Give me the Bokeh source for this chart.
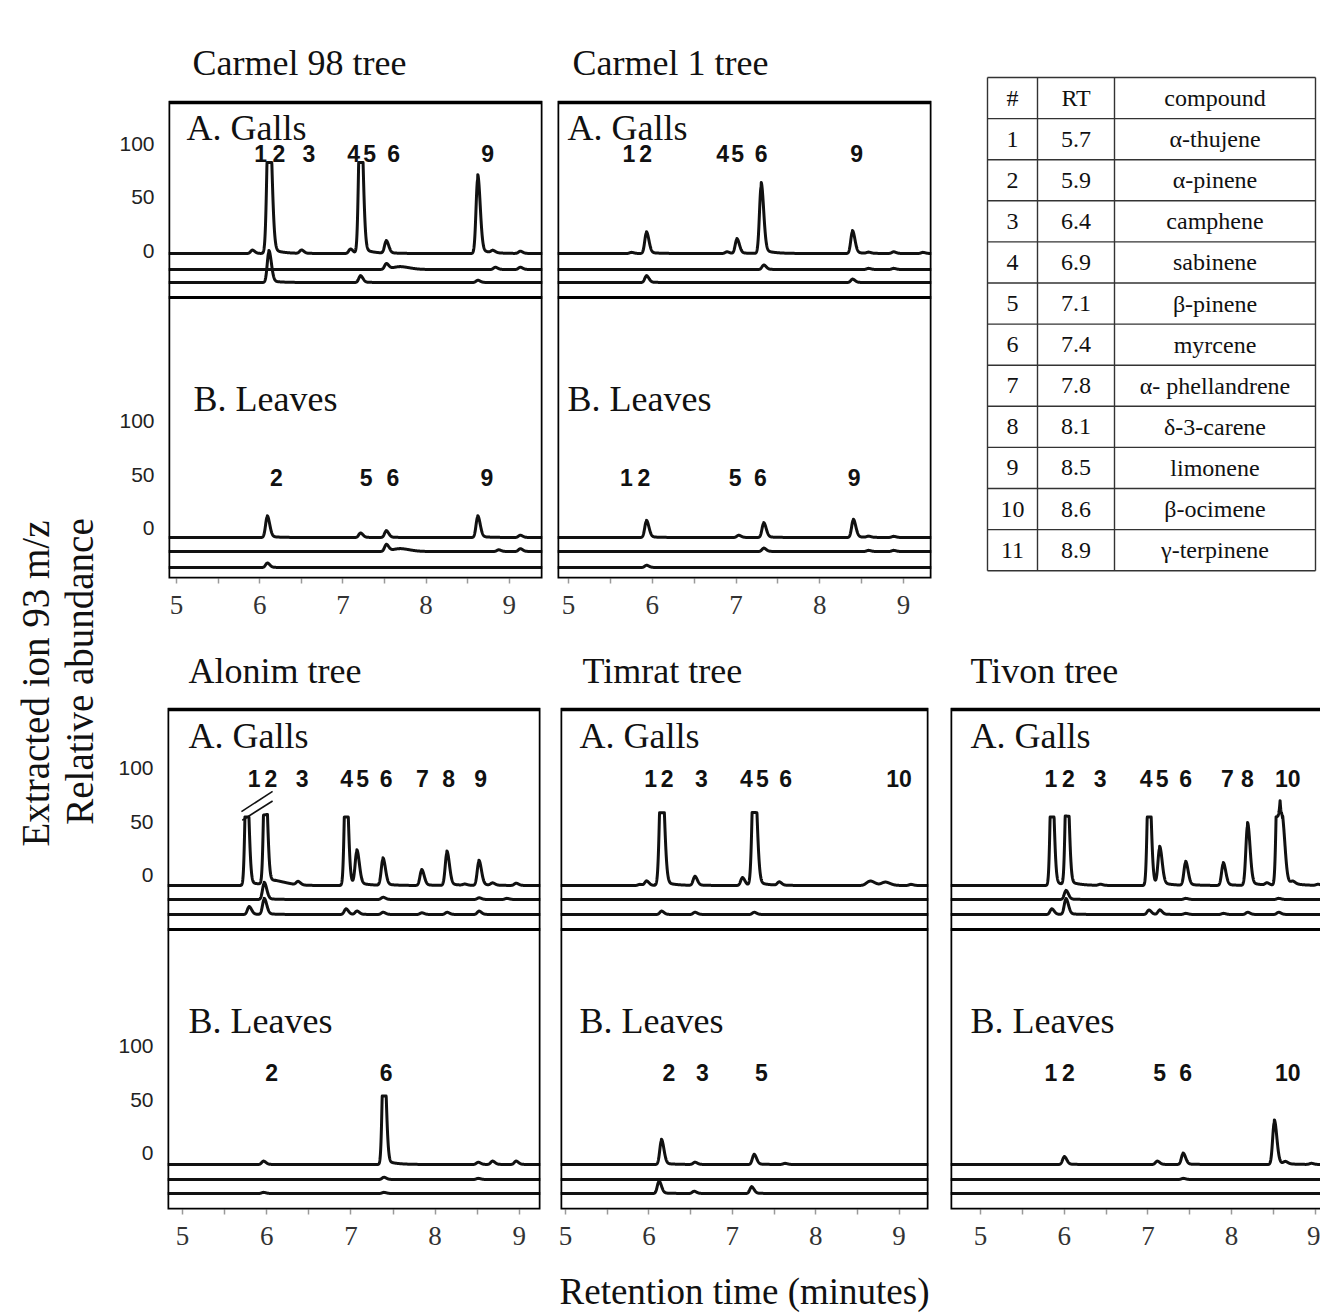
import numpy as np
from bokeh.plotting import figure
from bokeh.layouts import row, column
from bokeh.models import (Label, Span, FixedTicker, Range1d, ColumnDataSource, SingleIntervalTicker,
                          BoxAnnotation)
from bokeh.embed import file_html
from bokeh.resources import INLINE

# ---------------- data ----------------
# each trace: list of peaks (retention time [min], height [% relative abundance][, width [min][, clipped]])
CARMEL98_GALLS = [
    [(5.91, 3), (6.11, 85, 0.022, True), (6.50, 3), (7.09, 4), (7.21, 85, 0.02, True), (7.52, 11),
     (8.62, 69), (8.80, 2), (9.13, 2)],
    [(7.52, 5), (7.68, 2.5, 0.08), (8.83, 2), (9.13, 2)],
    [(6.11, 28), (7.21, 6), (8.62, 2)],
]
CARMEL98_LEAVES = [
    [(6.09, 19), (7.21, 4), (7.52, 6), (8.62, 19), (9.13, 2)],
    [(7.52, 6), (7.68, 2.5, 0.08), (8.87, 1.5), (9.13, 2.5)],
    [(6.09, 4)],
]
CARMEL1_GALLS = [
    [(5.75, 1), (5.93, 19), (6.89, 1.5), (7.01, 13), (7.30, 62), (8.39, 20), (8.58, 1), (8.88, 1.5), (9.23, 1)],
    [(7.33, 4), (8.58, 1), (8.88, 1)],
    [(5.93, 6), (8.39, 3)],
]
CARMEL1_LEAVES = [
    [(5.93, 15), (7.03, 2), (7.33, 13), (8.40, 16), (8.58, 1), (8.88, 1)],
    [(7.33, 3), (8.58, 1), (8.88, 1)],
    [(5.93, 2)],
]
ALONIM_GALLS = [
    [(5.76, 64, 0.018, True), (5.98, 64, 0.018, True), (6.10, 3, 0.10), (6.37, 3), (6.94, 64, 0.018, True),
     (7.07, 30), (7.38, 24), (7.84, 14), (8.14, 30), (8.35, 1), (8.52, 22), (8.68, 2), (8.96, 2)],
    [(5.97, 15), (7.38, 2), (8.52, 1.5), (8.85, 1)],
    [(5.79, 7), (5.97, 14), (6.94, 5), (7.07, 3), (7.38, 2), (7.84, 1.5), (8.14, 2), (8.52, 3)],
]
ALONIM_LEAVES = [
    [(5.96, 3), (7.39, 64, 0.018, True), (8.51, 2), (8.68, 3), (8.96, 3)],
    [(7.39, 2), (8.51, 1)],
    [(5.96, 1), (7.39, 1)],
]
TIMRAT_GALLS = [
    [(5.89, 1), (5.97, 4), (6.15, 68, 0.022, True), (6.55, 8), (7.12, 7), (7.26, 68, 0.022, True), (7.56, 3),
     (8.65, 4, 0.04), (8.83, 3, 0.04), (9.14, 1)],
    [],
    [(6.15, 3), (6.55, 2), (7.26, 2)],
]
TIMRAT_LEAVES = [
    [(6.15, 22), (6.55, 2), (7.26, 9), (7.63, 1)],
    [],
    [(6.12, 11), (6.54, 2), (7.23, 6)],
]
TIVON_GALLS = [
    [(5.85, 64, 0.018, True), (6.03, 64, 0.018, True), (6.43, 1), (7.01, 64, 0.018, True), (7.14, 33),
     (7.45, 21), (7.90, 20), (8.19, 55), (8.42, 2), (8.55, 64, 0.018, True), (8.61, 50), (8.73, 2), (9.03, 1)],
    [(6.02, 8), (7.45, 1), (8.56, 1)],
    [(5.85, 5), (6.02, 14), (7.01, 4), (7.14, 4), (7.45, 1), (7.90, 1), (8.19, 2), (8.56, 2)],
]
TIVON_LEAVES = [
    [(6.00, 7), (7.11, 3), (7.42, 10), (8.51, 39), (8.64, 2), (8.95, 1)],
    [(7.42, 1)],
    [],
]

CARMEL98_GALLS_LABELS = ["1", "2", "3", "4", "5", "6", "9"]
CARMEL98_GALLS_LABEL_RT = [6.01, 6.23, 6.59, 7.13, 7.32, 7.61, 8.74]
CARMEL98_LEAVES_LABELS = ["2", "5", "6", "9"]
CARMEL98_LEAVES_LABEL_RT = [6.20, 7.28, 7.60, 8.73]
CARMEL1_GALLS_LABELS = ["1", "2", "4", "5", "6", "9"]
CARMEL1_GALLS_LABEL_RT = [5.72, 5.92, 6.84, 7.02, 7.30, 8.44]
CARMEL1_LEAVES_LABELS = ["1", "2", "5", "6", "9"]
CARMEL1_LEAVES_LABEL_RT = [5.69, 5.90, 6.99, 7.29, 8.41]
ALONIM_GALLS_LABELS = ["1", "2", "3", "4", "5", "6", "7", "8", "9"]
ALONIM_GALLS_LABEL_RT = [5.85, 6.05, 6.42, 6.95, 7.14, 7.42, 7.85, 8.16, 8.54]
ALONIM_LEAVES_LABELS = ["2", "6"]
ALONIM_LEAVES_LABEL_RT = [6.06, 7.42]
TIMRAT_GALLS_LABELS = ["1", "2", "3", "4", "5", "6", "10"]
TIMRAT_GALLS_LABEL_RT = [6.02, 6.22, 6.63, 7.17, 7.36, 7.64, 9.00]
TIMRAT_LEAVES_LABELS = ["2", "3", "5"]
TIMRAT_LEAVES_LABEL_RT = [6.24, 6.64, 7.35]
TIVON_GALLS_LABELS = ["1", "2", "3", "4", "5", "6", "7", "8", "10"]
TIVON_GALLS_LABEL_RT = [5.84, 6.05, 6.43, 6.98, 7.17, 7.45, 7.95, 8.19, 8.67]
TIVON_LEAVES_LABELS = ["1", "2", "5", "6", "10"]
TIVON_LEAVES_LABEL_RT = [5.84, 6.05, 7.14, 7.45, 8.67]

ABUNDANCE_TICKS = [0, 50, 100]

TABLE_HEADER = ["#", "RT", "compound"]
TABLE_ID = ["1", "2", "3", "4", "5", "6", "7", "8", "9", "10", "11"]
TABLE_RT = ["5.7", "5.9", "6.4", "6.9", "7.1", "7.4", "7.8", "8.1", "8.5", "8.6", "8.9"]
TABLE_COMPOUND = ["α-thujene", "α-pinene", "camphene", "sabinene", "β-pinene", "myrcene",
                  "α- phellandrene", "δ-3-carene", "limonene", "β-ocimene", "γ-terpinene"]

# ---------------- styling / layout ----------------
PX = 1.07          # screen px per % abundance
SERIF = "Liberation Serif"
SANS = "Liberation Sans"
INK = "#111111"

# vertical geometry (px measured up from the box bottom)
TOP_GEOM = dict(box=476, a_zero=328, b_zero=50, a_base=[325, 309, 296], b_base=[41, 27, 11], divider=281,
                a_lab=425, b_lab=101, a_txt=451, b_txt=180, title=516)
BOT_GEOM = dict(box=500, a_zero=334, b_zero=56, a_base=[324, 310, 295], b_base=[45, 30, 16], divider=280,
                a_lab=431, b_lab=137, a_txt=474, b_txt=189, title=539)


def peak_shape(x, peaks):
    y = np.zeros_like(x)
    for pk in peaks:
        rt, h = pk[0], pk[1]
        w = pk[2] if len(pk) > 2 else 0.02
        clipped = len(pk) > 3 and pk[3]
        hh = h * 1.7 if clipped else h
        sig = np.where(x < rt, w, 1.5 * w)
        core = hh * np.exp(-0.5 * ((x - rt) / sig) ** 2)
        tail = np.where(x > rt, 0.07 * h * np.exp(-(x - rt) / 0.11), 0.0)
        one = core + tail
        if clipped:
            one = np.minimum(one, h)
        y = y + one
    return y


def panel(title, title_dx, x0, x1, width, height, mbl, mbr, mbt, mbb, geom,
          galls, leaves, glab, glab_rt, llab, llab_rt, galls_dx, leaves_dx,
          yticks=False, closed=True, xlabel=None, breaks=False):
    fw = width - mbl - mbr
    fh = height - mbt - mbb
    ppm = fw / (x1 - x0)
    p = figure(width=width, height=height, x_range=Range1d(x0, x1), y_range=Range1d(0, fh / PX),
               output_backend="svg", toolbar_location=None,
               min_border_left=mbl, min_border_right=mbr, min_border_top=mbt, min_border_bottom=mbb)
    p.grid.visible = False
    p.background_fill_color = "white"
    p.border_fill_color = "white"
    p.outline_line_color = None

    # framed box of the chromatograms
    right = x1 if closed else x1 + 1.0
    p.add_layout(BoxAnnotation(left=x0, right=right, bottom=0, top=geom["box"] / PX,
                               fill_alpha=0, line_color="black", line_width=3.5, line_alpha=1.0))

    # title
    p.add_layout(Label(x=x0 + title_dx / ppm, y=geom["title"] / PX, text=title, text_font=SERIF,
                       text_font_size="36px", text_baseline="middle", text_align="left", text_color=INK))

    # x axis
    xa = p.xaxis[0]
    xa.ticker = SingleIntervalTicker(interval=1, num_minor_ticks=2)
    xa.major_tick_out = 0
    xa.major_tick_in = 0
    xa.minor_tick_out = 5
    xa.minor_tick_in = 0
    xa.minor_tick_line_color = "#9a9a9a"
    xa.minor_tick_line_width = 1.5
    xa.major_label_text_font = SERIF
    xa.major_label_text_font_size = "27px"
    xa.major_label_text_color = "#333333"
    xa.major_label_standoff = 12
    xa.axis_line_color = None
    if xlabel:
        xa.axis_label = xlabel
        xa.axis_label_text_font = SERIF
        xa.axis_label_text_font_size = "37px"
        xa.axis_label_text_font_style = "normal"
        xa.axis_label_text_color = INK
        xa.axis_label_standoff = 23

    # y axis
    ya = p.yaxis[0]
    if yticks:
        a0 = round(geom["a_zero"] / PX, 2)
        b0 = round(geom["b_zero"] / PX, 2)
        ticks = [a0 + t for t in ABUNDANCE_TICKS] + [b0 + t for t in ABUNDANCE_TICKS]
        ya.ticker = FixedTicker(ticks=ticks, minor_ticks=[])
        overrides = {float(a0 + t): str(t) for t in ABUNDANCE_TICKS}
        overrides.update({float(b0 + t): str(t) for t in ABUNDANCE_TICKS})
        ya.major_label_overrides = overrides
        ya.axis_line_color = None
        ya.major_tick_line_color = None
        ya.minor_tick_line_color = None
        ya.major_label_text_font = SANS
        ya.major_label_text_font_size = "21px"
        ya.major_label_text_color = "#222222"
        ya.major_label_standoff = 8
    else:
        ya.visible = False

    # traces
    x = np.linspace(x0, x1, 2400)
    for base, tr in zip(geom["a_base"], galls):
        src = ColumnDataSource(dict(x=x, y=base / PX + peak_shape(x, tr)))
        p.line("x", "y", source=src, line_width=3.0, line_color=INK, line_join="round")
    for base, tr in zip(geom["b_base"], leaves):
        src = ColumnDataSource(dict(x=x, y=base / PX + peak_shape(x, tr)))
        p.line("x", "y", source=src, line_width=3.0, line_color=INK, line_join="round")
    p.add_layout(Span(location=geom["divider"] / PX, dimension="width", line_color="black", line_width=3))

    # broken-axis marks over the truncated first peaks
    if breaks:
        t1, t2 = galls[0][0], galls[0][1]
        top = geom["a_base"][0] / PX + t1[1]
        xs = [[t1[0] - 0.06, t2[0] + 0.09], [t1[0] - 0.05, t2[0] + 0.09]]
        ys = [[top + 5, top + 24], [top - 3, top + 15]]
        p.multi_line(xs, ys, line_color=INK, line_width=1.6)

    # texts
    p.add_layout(Label(x=x0 + galls_dx / ppm, y=geom["a_txt"] / PX, text="A. Galls", text_font=SERIF,
                       text_font_size="36px", text_baseline="middle", text_align="left", text_color=INK))
    p.add_layout(Label(x=x0 + leaves_dx / ppm, y=geom["b_txt"] / PX, text="B. Leaves", text_font=SERIF,
                       text_font_size="36px", text_baseline="middle", text_align="left", text_color=INK))
    for t, rt in zip(glab, glab_rt):
        p.add_layout(Label(x=rt, y=geom["a_lab"] / PX, text=t, text_font=SANS, text_font_style="bold",
                           text_font_size="23px", text_baseline="middle", text_align="center", text_color=INK))
    for t, rt in zip(llab, llab_rt):
        p.add_layout(Label(x=rt, y=geom["b_lab"] / PX, text=t, text_font=SANS, text_font_style="bold",
                           text_font_size="23px", text_baseline="middle", text_align="center", text_color=INK))
    return p


def px_to_rt(px, tick5_px, px_per_min):
    return 5 + (px - tick5_px) / px_per_min


# ---------- top row (figure y 0..640, frame 20..578, box 102..578) ----------
c98 = panel("Carmel 98 tree", 24, px_to_rt(168, 176, 83.2), px_to_rt(542, 176, 83.2), 450, 640, 68, 8, 20, 62,
            TOP_GEOM, CARMEL98_GALLS, CARMEL98_LEAVES, CARMEL98_GALLS_LABELS, CARMEL98_GALLS_LABEL_RT,
            CARMEL98_LEAVES_LABELS, CARMEL98_LEAVES_LABEL_RT, 18, 25, yticks=True)
c1 = panel("Carmel 1 tree", 15, px_to_rt(557, 568, 83.75), px_to_rt(931, 568, 83.75), 395, 640, 7, 14, 20, 62,
           TOP_GEOM, CARMEL1_GALLS, CARMEL1_LEAVES, CARMEL1_GALLS_LABELS, CARMEL1_GALLS_LABEL_RT,
           CARMEL1_LEAVES_LABELS, CARMEL1_LEAVES_LABEL_RT, 10, 10)

# table (coordinates in page pixels; frame 20..578 like its row neighbours)
tab = figure(width=375, height=640, x_range=Range1d(945, 1320), y_range=Range1d(578, 20), output_backend="svg",
             toolbar_location=None, min_border_left=0, min_border_right=0,
             min_border_top=20, min_border_bottom=62)
tab.axis.visible = False
tab.grid.visible = False
tab.outline_line_color = None
col_edges = [987, 1037, 1114, 1315]
row_top, row_h = 77, 41.1
n_rows = len(TABLE_ID) + 1
row_edges = [row_top + i * row_h for i in range(n_rows + 1)]
tab.segment(x0=[col_edges[0]] * len(row_edges), x1=[col_edges[-1]] * len(row_edges), y0=row_edges, y1=row_edges,
            line_color="#333333", line_width=1.4)
tab.segment(x0=col_edges, x1=col_edges, y0=[row_edges[0]] * 4, y1=[row_edges[-1]] * 4,
            line_color="#333333", line_width=1.4)
centers = [(col_edges[i] + col_edges[i + 1]) / 2 for i in range(3)]
row_c = [row_top + (i + 0.5) * row_h for i in range(n_rows)]
cols_text = [[TABLE_HEADER[0]] + TABLE_ID, [TABLE_HEADER[1]] + TABLE_RT, [TABLE_HEADER[2]] + TABLE_COMPOUND]
for cx, texts in zip(centers, cols_text):
    tsrc = ColumnDataSource(dict(x=[cx] * len(texts), y=row_c, t=texts))
    tab.text("x", "y", text="t", source=tsrc, text_font={"value": SERIF}, text_font_size="24px",
             text_align="center", text_baseline="middle", text_color=INK)

# ---------- bottom row (figure y 640..1315, frame 645..1209, box 709..1209) ----------
alo = panel("Alonim tree", 21, px_to_rt(167, 182, 84.2), px_to_rt(540, 182, 84.2), 450, 675, 67, 10, 5, 106,
            BOT_GEOM, ALONIM_GALLS, ALONIM_LEAVES, ALONIM_GALLS_LABELS, ALONIM_GALLS_LABEL_RT,
            ALONIM_LEAVES_LABELS, ALONIM_LEAVES_LABEL_RT, 21, 21, yticks=True, breaks=True)
tim = panel("Timrat tree", 22, px_to_rt(560, 565, 83.4), px_to_rt(928, 565, 83.4), 390, 675, 10, 12, 5, 106,
            BOT_GEOM, TIMRAT_GALLS, TIMRAT_LEAVES, TIMRAT_GALLS_LABELS, TIMRAT_GALLS_LABEL_RT,
            TIMRAT_LEAVES_LABELS, TIMRAT_LEAVES_LABEL_RT, 19, 19, xlabel="Retention time (minutes)")
tiv = panel("Tivon tree", 20, px_to_rt(950, 980, 83.7), px_to_rt(1320, 980, 83.7), 380, 675, 10, 0, 5, 106,
            BOT_GEOM, TIVON_GALLS, TIVON_LEAVES, TIVON_GALLS_LABELS, TIVON_GALLS_LABEL_RT,
            TIVON_LEAVES_LABELS, TIVON_LEAVES_LABEL_RT, 20, 20, closed=False)

# ---------- y label column ----------
yl = figure(width=100, height=1315, x_range=Range1d(0, 100), y_range=Range1d(0, 1315), output_backend="svg",
            toolbar_location=None, min_border_left=0, min_border_right=0,
            min_border_top=0, min_border_bottom=0)
yl.axis.visible = False
yl.grid.visible = False
yl.outline_line_color = None
yl.add_layout(Label(x=35, y=1315 - 683, text="Extracted ion 93 m/z", angle=np.pi / 2, text_font=SERIF,
                    text_font_size="39px", text_align="center", text_baseline="middle", text_color=INK))
yl.add_layout(Label(x=79, y=1315 - 671, text="Relative abundance", angle=np.pi / 2, text_font=SERIF,
                    text_font_size="39px", text_align="center", text_baseline="middle", text_color=INK))

layout = row(yl, column(row(c98, c1, tab), row(alo, tim, tiv)))
open("out.html", "w").write(file_html(layout, INLINE))
